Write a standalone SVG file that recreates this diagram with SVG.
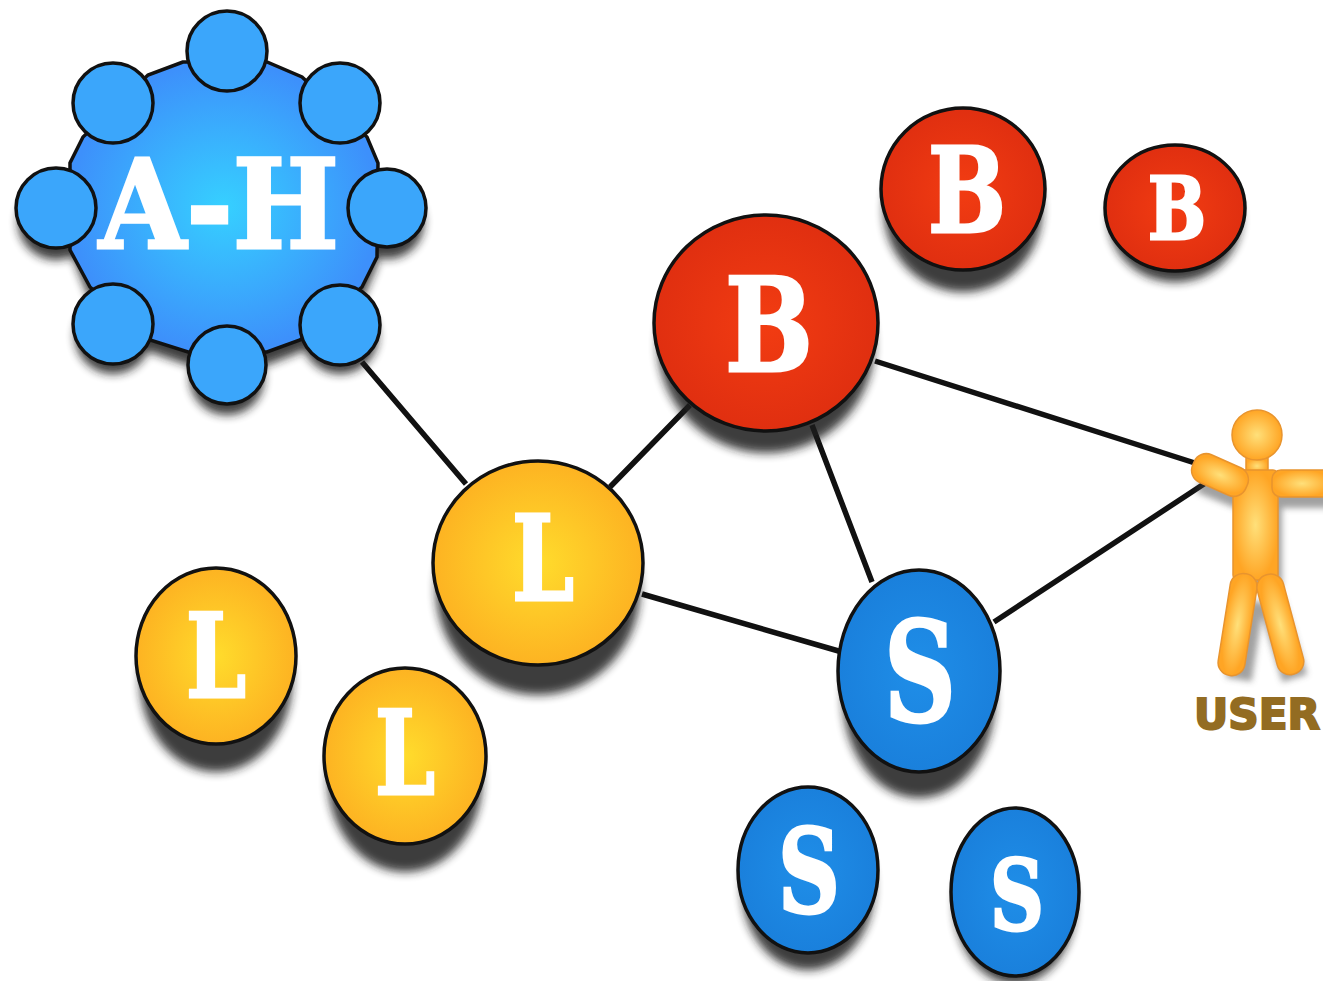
<svg xmlns="http://www.w3.org/2000/svg" width="1323" height="981" viewBox="0 0 1323 981">
<style>
.t{font-family:"DejaVu Serif","Liberation Serif",serif;font-weight:700;fill:#fff;stroke:#fff;stroke-width:3;text-anchor:middle}
.o{stroke:#111;stroke-width:3.5}
.c{stroke:#111;stroke-width:5.5;fill:none}
.d{fill:#1a1a1a;opacity:.85;filter:url(#sh)}
.b{fill:url(#gb)}.r{fill:url(#gr)}.y{fill:url(#gy)}.s{fill:url(#gs)}.k{fill:#3ba6fb}
.m{fill:url(#gm);stroke:#e8942e;stroke-width:1.5}
</style>
<defs>
<radialGradient id="gb"><stop offset="0" stop-color="#36d0ff"/><stop offset="1" stop-color="#3d90fb"/></radialGradient>
<radialGradient id="gr"><stop offset="0" stop-color="#f23c12"/><stop offset="1" stop-color="#e02f10"/></radialGradient>
<radialGradient id="gy"><stop offset="0" stop-color="#ffdc2c"/><stop offset="1" stop-color="#fdb322"/></radialGradient>
<radialGradient id="gs"><stop offset="0" stop-color="#1f8ee8"/><stop offset="1" stop-color="#1a80dc"/></radialGradient>
<radialGradient id="gm"><stop offset="0" stop-color="#ffe07a"/><stop offset="1" stop-color="#ffa524"/></radialGradient>
<filter id="sh" x="-20%" y="-20%" width="140%" height="150%"><feGaussianBlur stdDeviation="5"/></filter>
<filter id="sf" x="-30%" y="-30%" width="160%" height="160%"><feGaussianBlur stdDeviation="3"/></filter>
</defs>
<g id="connectors">
<path class="c" d="M362 362L466 484M610 487L690 405M642 594L842 652M812 425L872 582M875 361L1198 464M994 622L1210 480"/>
</g>
<g id="node-ah">
<g class="d"><polygon points="70,250 90,300 150,352 188,365 267,365 300,352 362,300 377,265 377,200 70,200"/><circle cx="227" cy="378" r="37"/><circle cx="113" cy="336" r="38"/><circle cx="340" cy="336" r="38"/><circle cx="56" cy="222" r="38"/><circle cx="387" cy="222" r="37"/></g>
<polygon class="o b" points="183,62 148,75 83,137 70,163 70,250 90,287 150,340 188,352 267,352 300,340 362,287 377,257 378,163 367,137 302,77 267,62"/>
<g class="k">
<circle class="o" cx="227" cy="51" r="40"/><circle class="o" cx="340" cy="103" r="40"/><circle class="o" cx="387" cy="208" r="39"/><circle class="o" cx="340" cy="325" r="40"/><circle class="o" cx="227" cy="365" r="39"/><circle class="o" cx="113" cy="324" r="40"/><circle class="o" cx="56" cy="208" r="40"/><circle class="o" cx="113" cy="103" r="40"/>
</g>
<text class="t" x="219" y="248" font-size="124" textLength="240" lengthAdjust="spacingAndGlyphs">A-H</text>
</g>
<g id="node-b1"><ellipse class="d" cx="766" cy="345" rx="108" ry="108"/><ellipse class="o r" cx="766" cy="323" rx="112" ry="108"/><text class="t" x="769" y="371" font-size="130" textLength="88" lengthAdjust="spacingAndGlyphs">B</text></g>
<g id="node-b2"><ellipse class="d" cx="963" cy="210" rx="79" ry="82"/><ellipse class="o r" cx="963" cy="189" rx="82" ry="81"/><text class="t" x="967" y="232" font-size="118" textLength="78" lengthAdjust="spacingAndGlyphs">B</text></g>
<g id="node-b3"><ellipse class="d" cx="1175" cy="220" rx="66" ry="62"/><ellipse class="o r" cx="1175" cy="208" rx="70" ry="63"/><text class="t" x="1177" y="239" font-size="86" textLength="58" lengthAdjust="spacingAndGlyphs">B</text></g>
<g id="node-l1"><ellipse class="d" cx="538" cy="590" rx="102" ry="105"/><ellipse class="o y" cx="538" cy="563" rx="105" ry="102"/><text class="t" x="543" y="600" font-size="118" textLength="62" lengthAdjust="spacingAndGlyphs">L</text></g>
<g id="node-l2"><ellipse class="d" cx="216" cy="680" rx="76" ry="92"/><ellipse class="o y" cx="216" cy="656" rx="80" ry="88"/><text class="t" x="216" y="697" font-size="116" textLength="60" lengthAdjust="spacingAndGlyphs">L</text></g>
<g id="node-l3"><ellipse class="d" cx="405" cy="780" rx="77" ry="92"/><ellipse class="o y" cx="405" cy="756" rx="81" ry="88"/><text class="t" x="405" y="794" font-size="116" textLength="60" lengthAdjust="spacingAndGlyphs">L</text></g>
<g id="node-s1"><ellipse class="d" cx="919" cy="698" rx="76" ry="100"/><ellipse class="o s" cx="919" cy="671" rx="81" ry="101"/><text class="t" x="920" y="721" font-size="138" textLength="72" lengthAdjust="spacingAndGlyphs">S</text></g>
<g id="node-s2"><ellipse class="d" cx="808" cy="888" rx="66" ry="82"/><ellipse class="o s" cx="808" cy="870" rx="70" ry="83"/><text class="t" x="809" y="912" font-size="116" textLength="62" lengthAdjust="spacingAndGlyphs">S</text></g>
<g id="node-s3"><ellipse class="d" cx="1015" cy="906" rx="60" ry="78"/><ellipse class="o s" cx="1015" cy="892" rx="64" ry="84"/><text class="t" x="1017" y="930" font-size="98" textLength="54" lengthAdjust="spacingAndGlyphs">S</text></g>
<g id="node-user">
<g fill="#444" opacity=".5" filter="url(#sf)"><rect x="1240" y="478" width="42" height="110"/><rect x="1275" y="480" width="60" height="28"/><rect x="1200" y="472" width="46" height="30" transform="rotate(22 1223 487)"/><rect x="1232" y="600" width="26" height="80" transform="rotate(9 1245 640)"/><rect x="1270" y="600" width="26" height="80" transform="rotate(-17 1283 640)"/></g>
<rect class="m" x="1246" y="458" width="22" height="16"/>
<circle class="m" cx="1257" cy="435" r="25"/>
<rect class="m" x="1233" y="470" width="45" height="110" rx="5"/>
<rect class="m" x="1272" y="470" width="60" height="27" rx="9"/>
<rect class="m" x="1191" y="460" width="58" height="30" rx="13" transform="rotate(24 1220 475)"/>
<rect class="m" x="1224" y="573" width="27" height="103" rx="13" transform="rotate(9 1237 625)"/>
<rect class="m" x="1267" y="573" width="27" height="103" rx="13" transform="rotate(-15 1280 625)"/>
<text x="1257" y="729" font-family="'DejaVu Sans','Liberation Sans',sans-serif" font-weight="700" font-size="42" fill="#936c22" text-anchor="middle" stroke="#936c22" stroke-width="2" textLength="126" lengthAdjust="spacingAndGlyphs">USER</text>
</g>
</svg>
